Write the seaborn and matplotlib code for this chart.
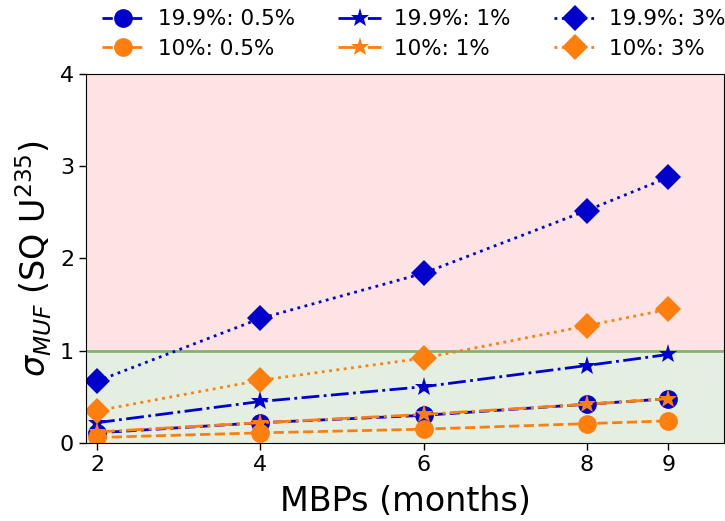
import matplotlib
matplotlib.use("Agg")
import matplotlib.pyplot as plt
import seaborn as sns
import pandas as pd

sns.set_style("white")
plt.rcParams['font.family'] = ['DejaVu Sans']
plt.rcParams.update({
    "text.color": "black", "axes.labelcolor": "black",
    "xtick.color": "black", "ytick.color": "black",
    "axes.edgecolor": "black",
})

months = [2, 4, 6, 8, 9]
xtick_labels = ["2", "4", "6", "8", "9"]
b_05 = [0.11, 0.22, 0.30, 0.42, 0.48]
o_05 = [0.06, 0.11, 0.15, 0.21, 0.24]
b_1 = [0.22, 0.45, 0.61, 0.84, 0.96]
o_1 = [0.12, 0.22, 0.31, 0.42, 0.48]
b_3 = [0.67, 1.35, 1.84, 2.52, 2.88]
o_3 = [0.35, 0.68, 0.92, 1.27, 1.45]

labels = ["19.9%: 0.5%", "10%: 0.5%", "19.9%: 1%", "10%: 1%", "19.9%: 3%", "10%: 3%"]
series = [b_05, o_05, b_1, o_1, b_3, o_3]

BLUE = "#0000cd"
ORANGE = "#ff7f0e"
styles = [
    dict(color=BLUE, marker="o", linestyle="--", markersize=13.5),
    dict(color=ORANGE, marker="o", linestyle="--", markersize=13.5),
    dict(color=BLUE, marker="*", linestyle="-.", markersize=14),
    dict(color=ORANGE, marker="*", linestyle="-.", markersize=14),
    dict(color=BLUE, marker="D", linestyle=":", markersize=13),
    dict(color=ORANGE, marker="D", linestyle=":", markersize=13),
]

fig = plt.figure(figsize=(7.25, 5.21), dpi=100)
ax = fig.add_axes([0.1186, 0.1497, 0.8800, 0.7083])

ax.axhspan(1, 4, color="#fde3e3", zorder=0)
ax.axhspan(0, 1, color="#e4efe1", zorder=0)
ax.axhline(1, color="#80b46e", linewidth=2, zorder=1)

for lab, vals, st in zip(labels, series, styles):
    df = pd.DataFrame({"x": months, "y": vals})
    sns.lineplot(data=df, x="x", y="y", ax=ax, label=lab, linewidth=2,
                 markeredgewidth=0, **st)

ax.set_xlim(1.865, 9.68)
ax.set_ylim(0, 4)
ax.set_xticks(months)
ax.set_xticklabels(xtick_labels)
ax.set_yticks([0, 1, 2, 3, 4])
ax.tick_params(axis="both", labelsize=16, length=5, width=1, bottom=True, left=True, color="black")
ax.set_xlabel("MBPs (months)", fontsize=24, labelpad=7)
ax.set_ylabel(r"$\sigma_{MUF}$ (SQ U$^{235}$)", fontsize=24)

ax.legend(loc="lower center", bbox_to_anchor=(0.514, 1.006), ncol=3, frameon=False,
          fontsize=15.5, columnspacing=2.0, handletextpad=0.6, borderaxespad=0.2,
          labelspacing=0.45)

fig.savefig("out.png", dpi=100)
